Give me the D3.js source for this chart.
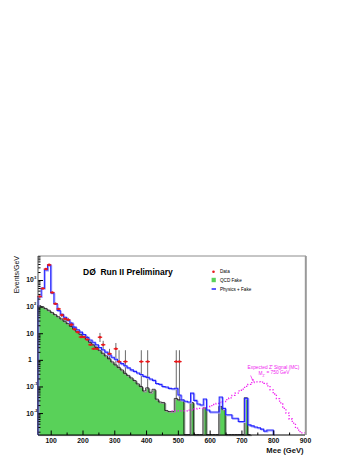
<!DOCTYPE html>
<html>
<head>
<meta charset="utf-8">
<script src="https://cdn.jsdelivr.net/npm/d3@7"></script>
<style>
  body { margin: 0; background: #fff; }
  svg text { font-family: "Liberation Sans", Arial, Helvetica, sans-serif; }
</style>
</head>
<body>
<div id="graph-container"></div>
<script>

/////////////////////////////////////////////////////////////////////////////
                      ///////    Data    ///////
/////////////////////////////////////////////////////////////////////////////

// all histograms: 10 GeV bins, value = Events/GeV
var bin_width = 10;

// Physics + Fake (blue), bins starting at 60 GeV
var physics_start = 60;
var physics_fake = [240, 500, 2400, 3700, 330, 130, 72, 52, 40, 31,
                    24, 17, 13.5, 11, 9, 7, 5.6, 4.6, 3.7, 2.9,
                    2.4, 1.95, 1.55, 1.25, 1.05, 0.85, 0.72, 0.6, 0.5, 0.42,
                    0.37, 0.32, 0.28, 0.24, 0.22, 0.19, 0.17, 0.13, 0.12, 0.1,
                    0.095, 0.085, 0.082, 0.086, 0.048, 0.031, 0.028, 0.026, 0.056, 0.03,
                    0.022, 0.02, 0.034, 0.013, 0.011, 0.011, 0.011, 0.04, 0.015, 0.0086,
                    0.0086, 0.0064, 0.0064, 0.0048, 0.0048, 0.036, 0.0036, 0.0033, 0.003, 0.0028,
                    0.0025, 0.0021, 0.0023, 0.0023];

// QCD Fake (green), bins starting at 60 GeV
var qcd_start = 60;
var qcd_fake = [105, 95, 82, 70, 58, 48, 40, 33, 27, 22,
                17.5, 14, 11, 8.8, 7, 5.6, 4.4, 3.5, 2.8, 2.2,
                1.7, 1.35, 1.05, 0.8, 0.62, 0.5, 0.4, 0.3, 0.25, 0.2,
                0.16, 0.12, 0.095, 0.065, 0.085, 0.058, 0.075, 0.032, 0.025, 0.024,
                0.012, 0.011, 0.011, 0.034, 0.03, 0.03, 0, 0, 0.024, 0,
                0, 0, 0.015, 0, 0, 0, 0, 0.017, 0.013, 0,
                0, 0, 0, 0, 0, 0.036, 0];

// Expected Z' signal (MC), M = 750 GeV, bins starting at 480 GeV
var signal_start = 480;
var zprime_signal = [0.012, 0.012, 0.012, 0.012, 0.012, 0.013, 0.013, 0.014, 0.015, 0.015,
                     0.016, 0.017, 0.019, 0.021, 0.023, 0.025, 0.027, 0.032, 0.037, 0.046,
                     0.056, 0.068, 0.08, 0.1, 0.12, 0.14, 0.15, 0.15, 0.145, 0.13,
                     0.105, 0.075, 0.052, 0.035, 0.024, 0.015, 0.01, 0.006, 0.0042, 0.0027,
                     0.002, 0.0018];

// Data points (bin centres), with error bar ends (0 = down to the axis)
var data_mass = [65, 75, 85, 95, 105, 115, 125, 135, 145, 155,
                 165, 175, 185, 195, 205, 215, 225, 235, 245, 255,
                 265, 285, 305, 315, 335, 385, 405, 495, 505];
var data_value = [240, 480, 2600, 3700, 340, 128, 82, 48, 35, 32,
                  21, 14, 11, 7.2, 7.2, 5.8, 3.7, 2.6, 2.6, 7.1,
                  3.7, 1.7, 2.6, 0.86, 0.86, 0.86, 0.86, 0.86, 0.86];
var data_err_up = [250, 500, 2700, 3800, 360, 140, 92, 56, 42, 38,
                   26, 18, 14, 9.5, 9.5, 7.8, 5.2, 3.8, 3.8, 10.3,
                   5.2, 2.6, 4.3, 2.3, 2.3, 2.3, 2.3, 2.3, 2.3];
var data_err_dn = [230, 460, 2500, 3600, 320, 116, 72, 40, 28, 26,
                   16, 10, 8, 5, 5, 3.8, 2.3, 1.5, 1.5, 4.7,
                   2.4, 1.0, 0.25, 0, 0, 0, 0, 0, 0];

var x_ticks_major = [100, 200, 300, 400, 500, 600, 700, 800, 900];
var y_ticks_major = [0.01, 0.1, 1, 10, 100, 1000];
var y_tick_labels = [['10', '-2'], ['10', '-1'], ['1', ''], ['10', ''], ['10', '2'], ['10', '3']];

/////////////////////////////////////////////////////////////////////////////
                      ///////    Set Up Chart    ///////
/////////////////////////////////////////////////////////////////////////////

var W = 360, H = 466;
var frame = {left: 38, right: 305, top: 256, bottom: 435};

var green = '#59d159';
var blue = '#2424ff';
var red = '#e8181a';
var magenta = '#f020f0';

var svg = d3.select('#graph-container').append('svg')
    .attr('width', W).attr('height', H);

var x = d3.scaleLinear().domain([60, 900]).range([frame.left, frame.right]);
var y = d3.scaleLog().domain([0.0015, 8000]).range([frame.bottom, frame.top]).clamp(true);

let yv = (v) => v > 0 ? y(v) : frame.bottom;

// step outline of a histogram
function step_points(start, values) {
    var pts = [[x(start), frame.bottom]];
    values.forEach((v, i) => {
        var lo = start + i * bin_width;
        pts.push([x(lo), yv(v)]);
        pts.push([x(lo + bin_width), yv(v)]);
    });
    pts.push([x(start + values.length * bin_width), frame.bottom]);
    return pts;
}
var line = d3.line();

var g = svg.append('g');

/////////////////////////////////////////////////////////////////////////////
                      ///////    Error bars    ///////
/////////////////////////////////////////////////////////////////////////////

g.selectAll('.err').data(data_mass).enter()
    .append('line')
    .attr('class', 'err')
    .attr('x1', d => x(d)).attr('x2', d => x(d))
    .attr('y1', (d, i) => yv(data_err_up[i]))
    .attr('y2', (d, i) => yv(data_err_dn[i]))
    .attr('stroke', '#6a6a6a')
    .attr('stroke-width', 1);

/////////////////////////////////////////////////////////////////////////////
                      ///////    QCD fake (green)    ///////
/////////////////////////////////////////////////////////////////////////////

var qcd_pts = step_points(qcd_start, qcd_fake);

g.append('path')
    .attr('d', line(qcd_pts) + 'Z')
    .attr('fill', green)
    .attr('stroke', '#909090')
    .attr('stroke-width', 1)
    .attr('transform', 'translate(0.6,0.6)');

g.append('path')
    .attr('d', line(qcd_pts))
    .attr('fill', 'none')
    .attr('stroke', '#111')
    .attr('stroke-width', 0.8)
    .attr('transform', 'translate(-0.4,-0.5)');

/////////////////////////////////////////////////////////////////////////////
                      ///////    Signal (magenta dotted)    ///////
/////////////////////////////////////////////////////////////////////////////

var sig_pts = step_points(signal_start, zprime_signal).slice(1, -1);
g.append('path')
    .attr('d', line(sig_pts))
    .attr('fill', 'none')
    .attr('stroke', magenta)
    .attr('stroke-width', 1.3)
    .attr('stroke-dasharray', '1.3,1.7');

/////////////////////////////////////////////////////////////////////////////
                      ///////    Physics + Fake (blue)    ///////
/////////////////////////////////////////////////////////////////////////////

var phys_pts = step_points(physics_start, physics_fake);
g.append('path')
    .attr('d', line(phys_pts))
    .attr('fill', 'none')
    .attr('stroke', '#a0a0ff')
    .attr('stroke-width', 1.2)
    .attr('transform', 'translate(0.9,0.9)');
g.append('path')
    .attr('d', line(phys_pts))
    .attr('fill', 'none')
    .attr('stroke', blue)
    .attr('stroke-width', 1.1);

/////////////////////////////////////////////////////////////////////////////
                      ///////    Data markers    ///////
/////////////////////////////////////////////////////////////////////////////

var marks = g.selectAll('.mark').data(data_mass).enter()
    .append('g')
    .attr('class', 'mark')
    .attr('transform', (d, i) => `translate(${x(d)},${y(data_value[i])})`);
marks.append('rect')
    .attr('x', -2.2).attr('y', -0.6).attr('width', 4.4).attr('height', 1.2)
    .attr('fill', red);
marks.append('circle')
    .attr('r', 1.3)
    .attr('fill', red);

/////////////////////////////////////////////////////////////////////////////
                      ///////    Axes & frame    ///////
/////////////////////////////////////////////////////////////////////////////

// x axis, ticks pointing up
var x_minor = d3.range(50, 901, 50).filter(v => v >= 60 && v % 100 != 0);
svg.append('g')
    .attr('transform', `translate(0,${frame.bottom})`)
    .call(d3.axisBottom(x).tickValues(x_minor).tickSize(-2.5).tickFormat(''))
    .call(a => a.select('.domain').remove());
svg.append('g')
    .attr('class', 'xaxis')
    .attr('transform', `translate(0,${frame.bottom})`)
    .call(d3.axisBottom(x).tickValues(x_ticks_major).tickSizeInner(-4.5).tickSizeOuter(0).tickPadding(3))
    .call(a => a.select('.domain').remove())
    .call(a => a.selectAll('text').attr('font-size', 6.8).attr('font-weight', 'bold').attr('fill', '#111')
        .attr('font-family', '"Liberation Sans", Arial, sans-serif'));

// y axis, ticks pointing right
var y_minor = [];
for (var e = -3; e <= 3; e++) {
    for (var k = 2; k <= 9; k++) {
        var v = k * Math.pow(10, e);
        if (v >= 0.0015 && v <= 8000) y_minor.push(v);
    }
}
svg.append('g')
    .attr('transform', `translate(${frame.left},0)`)
    .call(d3.axisRight(y).tickValues(y_minor).tickSize(2.5).tickFormat(''))
    .call(a => a.select('.domain').remove());
svg.append('g')
    .attr('transform', `translate(${frame.left},0)`)
    .call(d3.axisRight(y).tickValues(y_ticks_major).tickSize(5).tickFormat(''))
    .call(a => a.select('.domain').remove());

// y labels with exponents
var ylab = svg.append('g').selectAll('text').data(y_ticks_major).enter()
    .append('text')
    .attr('x', 30)
    .attr('y', d => y(d))
    .attr('dy', '0.36em')
    .attr('font-size', 6.8)
    .attr('font-weight', 'bold')
    .attr('fill', '#111')
    .attr('text-anchor', 'middle');
ylab.append('tspan').text((d, i) => y_tick_labels[i][0]);
ylab.append('tspan')
    .attr('font-size', 4)
    .attr('dy', '-0.9em')
    .attr('x', 34)
    .attr('text-anchor', 'start')
    .text((d, i) => y_tick_labels[i][1]);

// frame
svg.append('line').attr('x1', frame.left).attr('x2', frame.right + 1)
    .attr('y1', frame.top).attr('y2', frame.top)
    .attr('stroke', '#8c8c8c').attr('stroke-width', 1);
svg.append('line').attr('x1', frame.right + 0.8).attr('x2', frame.right + 0.8)
    .attr('y1', frame.top).attr('y2', frame.bottom)
    .attr('stroke', '#999').attr('stroke-width', 2);
svg.append('line').attr('x1', frame.left).attr('x2', frame.left)
    .attr('y1', frame.top).attr('y2', frame.bottom)
    .attr('stroke', '#555').attr('stroke-width', 1);
svg.append('line').attr('x1', frame.left).attr('x2', frame.right)
    .attr('y1', frame.bottom).attr('y2', frame.bottom)
    .attr('stroke', '#000').attr('stroke-width', 1.2);

// axis titles
svg.append('text')
    .attr('transform', 'translate(18.5,256) rotate(-90)')
    .attr('text-anchor', 'end')
    .attr('font-size', 7)
    .attr('fill', '#111')
    .text('Events/GeV');
svg.append('text')
    .attr('x', 303.5).attr('y', 452.5)
    .attr('text-anchor', 'end')
    .attr('font-size', 7.6)
    .attr('font-weight', 'bold')
    .attr('fill', '#111')
    .text('Mee (GeV)');

/////////////////////////////////////////////////////////////////////////////
                      ///////    Title, legend, labels    ///////
/////////////////////////////////////////////////////////////////////////////

svg.append('text')
    .attr('x', 83).attr('y', 275)
    .attr('font-size', 8.5)
    .attr('font-weight', 'bold')
    .attr('xml:space', 'preserve')
    .style('white-space', 'pre')
    .text('DØ  Run II Preliminary');

var legend = svg.append('g').attr('font-size', 4.6);
legend.append('circle').attr('cx', 213.5).attr('cy', 271.7).attr('r', 1.3).attr('fill', red);
legend.append('text').attr('x', 220).attr('y', 273.4).text('Data');
legend.append('rect').attr('x', 211.6).attr('y', 277.8).attr('width', 4.2).attr('height', 4.4).attr('fill', green);
legend.append('text').attr('x', 220).attr('y', 281.6).text('QCD Fake');
legend.append('line').attr('x1', 211.6).attr('x2', 216).attr('y1', 289).attr('y2', 289)
    .attr('stroke', blue).attr('stroke-width', 1.5);
legend.append('text').attr('x', 220).attr('y', 290.6).text('Physics + Fake');

var sig_label = svg.append('g').attr('fill', magenta).attr('font-size', 4.8).attr('text-anchor', 'middle');
sig_label.append('text').attr('x', 273.5).attr('y', 368.5).text("Expected Z' Signal (MC)");
var mz = sig_label.append('text').attr('x', 274).attr('y', 375.2);
mz.append('tspan').text('M');
mz.append('tspan').attr('font-size', 3.2).attr('dy', '0.5em').text("Z'");
mz.append('tspan').attr('dy', '-0.5em').text(' = 750 GeV');

svg.append('line').attr('x1', 250.6).attr('y1', 375.5).attr('x2', 252.8).attr('y2', 380.5)
    .attr('stroke', magenta).attr('stroke-width', 0.7);
svg.append('path').attr('d', 'M251.6,379.6 L253.3,381.6 L253.7,379.0 Z').attr('fill', magenta);

</script>
</body>
</html>
